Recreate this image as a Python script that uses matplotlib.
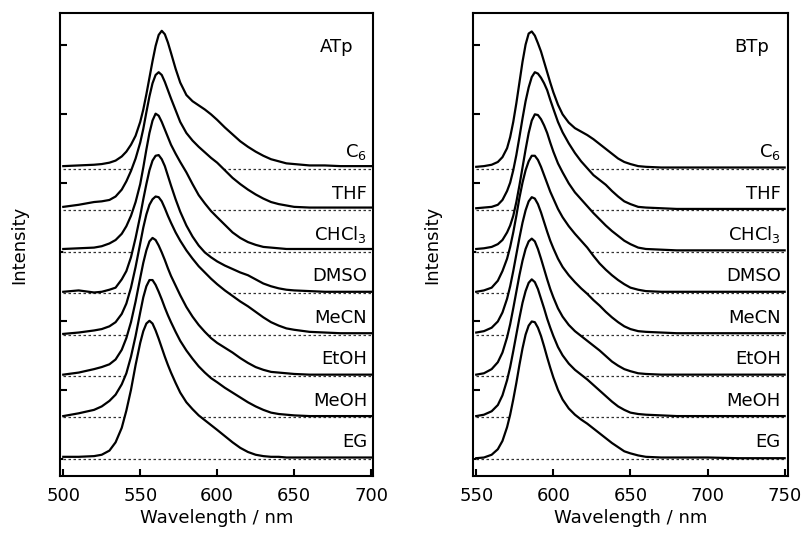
import numpy as np
import matplotlib.pyplot as plt

plt.rcParams['font.family'] = ['DejaVu Sans']
plt.rcParams['mathtext.fontset'] = 'dejavusans'

# solvent labels, top curve first
solvents = [r'C$_6$', 'THF', r'CHCl$_3$', 'DMSO', 'MeCN', 'EtOH', 'MeOH', 'EG']
offset = 0.6

# ATp emission (normalised to 2.0 at the peak)
atp_wl = [500, 510, 520, 525, 530, 534, 538, 541, 544, 547,
          550, 552, 554, 556, 558, 560, 562, 564, 566, 568,
          570, 573, 576, 580, 584, 588, 592, 596, 600, 605,
          610, 615, 620, 625, 630, 635, 640, 645, 650, 660,
          670, 680, 690, 700]
atp_c6 = [.04, .05, .06, .07, .09, .12, .18, .25, .35, .48,
          .68, .86, 1.08, 1.32, 1.56, 1.78, 1.94, 2.00, 1.95, 1.83,
          1.68, 1.45, 1.25, 1.07, .98, .92, .86, .79, .71, .60,
          .50, .40, .32, .25, .19, .14, .11, .08, .07, .05,
          .05, .04, .04, .04]
atp_thf = [.05, .08, .12, .13, .15, .20, .30, .42, .57, .75,
           .98, 1.18, 1.42, 1.65, 1.84, 1.96, 2.00, 1.96, 1.86, 1.74,
           1.62, 1.45, 1.28, 1.12, 1.01, .92, .84, .76, .69, .58,
           .47, .38, .30, .23, .17, .12, .09, .07, .05, .04,
           .04, .04, .04, .04]
atp_chcl3 = [.04, .05, .06, .08, .12, .17, .26, .37, .52, .72,
             .98, 1.22, 1.48, 1.72, 1.90, 2.00, 1.97, 1.88, 1.77, 1.66,
             1.55, 1.42, 1.30, 1.15, .98, .82, .70, .59, .50, .39,
             .28, .20, .14, .10, .07, .06, .05, .04, .04, .04,
             .04, .04, .04, .04]
atp_dmso = [.02, .04, .01, .02, .05, .08, .20, .32, .52, .80,
            1.12, 1.36, 1.58, 1.78, 1.92, 1.99, 2.00, 1.94, 1.84, 1.70,
            1.56, 1.36, 1.18, .98, .82, .69, .59, .52, .46, .40,
            .35, .30, .26, .20, .14, .10, .07, .05, .04, .03,
            .02, .02, .02, .02]
atp_mecn = [.01, .03, .06, .08, .12, .18, .30, .45, .68, .98,
            1.32, 1.55, 1.74, 1.88, 1.96, 2.00, 1.99, 1.93, 1.83, 1.72,
            1.62, 1.48, 1.36, 1.22, 1.10, .99, .90, .81, .73, .64,
            .56, .48, .41, .33, .25, .18, .13, .09, .07, .04,
            .03, .02, .02, .02]
atp_etoh = [.02, .05, .10, .13, .17, .24, .38, .55, .78, 1.08,
            1.42, 1.64, 1.82, 1.95, 2.00, 1.97, 1.89, 1.79, 1.68, 1.56,
            1.45, 1.31, 1.17, 1.00, .86, .74, .64, .55, .48, .41,
            .34, .26, .19, .13, .09, .06, .05, .04, .03, .02,
            .02, .02, .02, .02]
atp_meoh = [.02, .06, .11, .16, .24, .33, .48, .64, .88, 1.18,
            1.52, 1.74, 1.90, 1.99, 1.99, 1.92, 1.82, 1.71, 1.59, 1.48,
            1.38, 1.24, 1.11, .97, .85, .74, .65, .57, .51, .43,
            .36, .29, .22, .16, .11, .07, .05, .04, .03, .02,
            .02, .02, .02, .02]
atp_eg = [.03, .03, .04, .06, .12, .24, .45, .70, 1.00, 1.36,
          1.68, 1.85, 1.96, 2.00, 1.96, 1.86, 1.74, 1.61, 1.48, 1.36,
          1.25, 1.10, .96, .82, .72, .63, .56, .49, .42, .33,
          .24, .16, .10, .06, .04, .03, .03, .02, .02, .02,
          .02, .02, .02, .02]

# BTp emission
btp_wl = [550, 555, 560, 564, 567, 570, 572, 574, 576, 578,
          580, 582, 584, 586, 588, 590, 592, 594, 596, 598,
          600, 603, 606, 610, 614, 618, 622, 626, 630, 634,
          638, 642, 646, 650, 655, 660, 670, 680, 700, 720, 750]
btp_c6 = [.03, .04, .06, .10, .17, .30, .46, .68, .95, 1.25,
          1.55, 1.80, 1.96, 1.99, 1.93, 1.82, 1.70, 1.55, 1.40, 1.25,
          1.11, .93, .79, .67, .59, .54, .49, .43, .36, .29,
          .22, .15, .10, .07, .04, .03, .02, .02, .02, .02, .02]
btp_thf = [.03, .04, .05, .08, .15, .28, .40, .58, .80, 1.06,
           1.33, 1.58, 1.78, 1.93, 2.00, 1.98, 1.92, 1.84, 1.74, 1.60,
           1.47, 1.28, 1.13, .97, .83, .71, .61, .51, .44, .37,
           .28, .20, .13, .09, .05, .04, .03, .02, .02, .02, .02]
btp_chcl3 = [.04, .05, .07, .11, .17, .28, .38, .52, .72, .96,
             1.22, 1.48, 1.72, 1.90, 1.99, 1.98, 1.92, 1.83, 1.72, 1.58,
             1.45, 1.28, 1.15, .99, .86, .76, .66, .56, .47, .38,
             .30, .23, .16, .11, .06, .04, .03, .02, .02, .02, .02]
btp_dmso = [.02, .04, .08, .18, .32, .50, .67, .88, 1.12, 1.38,
            1.60, 1.78, 1.91, 1.99, 1.99, 1.93, 1.83, 1.71, 1.59, 1.47,
            1.37, 1.22, 1.10, .97, .86, .76, .66, .54, .43, .34,
            .26, .19, .13, .08, .05, .03, .02, .02, .02, .02, .02]
btp_mecn = [.03, .05, .10, .19, .32, .52, .70, .92, 1.16, 1.40,
            1.62, 1.80, 1.93, 1.99, 1.97, 1.89, 1.77, 1.63, 1.49, 1.36,
            1.25, 1.10, .98, .86, .76, .67, .59, .50, .42, .33,
            .25, .18, .12, .08, .05, .04, .03, .02, .02, .02, .02]
btp_etoh = [.02, .04, .10, .20, .34, .56, .75, .98, 1.22, 1.46,
            1.67, 1.84, 1.95, 1.99, 1.95, 1.84, 1.70, 1.55, 1.40, 1.26,
            1.14, .98, .86, .74, .65, .58, .51, .44, .37, .29,
            .21, .15, .10, .07, .04, .03, .02, .02, .02, .02, .02]
btp_meoh = [.02, .04, .09, .18, .32, .54, .73, .96, 1.20, 1.44,
            1.66, 1.83, 1.95, 2.00, 1.96, 1.86, 1.72, 1.58, 1.43, 1.30,
            1.18, 1.02, .90, .78, .69, .62, .55, .47, .39, .31,
            .23, .16, .11, .07, .05, .04, .03, .02, .02, .02, .02]
btp_eg = [.01, .02, .06, .14, .26, .46, .64, .86, 1.10, 1.36,
          1.60, 1.80, 1.93, 1.99, 1.98, 1.90, 1.78, 1.63, 1.47, 1.32,
          1.18, 1.00, .86, .73, .64, .57, .51, .44, .37, .30,
          .23, .17, .11, .08, .05, .03, .02, .02, .02, .01, .01]

atp_all = [atp_c6, atp_thf, atp_chcl3, atp_dmso, atp_mecn, atp_etoh, atp_meoh, atp_eg]
btp_all = [btp_c6, btp_thf, btp_chcl3, btp_dmso, btp_mecn, btp_etoh, btp_meoh, btp_eg]

fig = plt.figure(figsize=(8.08, 5.35), dpi=100)
ax1 = fig.add_axes([0.0743, 0.110, 0.3874, 0.866])
ax2 = fig.add_axes([0.5854, 0.110, 0.3899, 0.866])


def draw_panel(ax, wl, spectra, name, xlim, xticks, label_x, name_x):
    n = len(spectra)
    wl = np.array(wl)
    for i, spec in enumerate(spectra):
        base = offset * (n - 1 - i)
        y = base + np.array(spec)
        z = 3 + 3 * i
        # white fill under each curve hides the baselines of the curves above
        ax.fill_between(wl, base - 0.02, y, facecolor='white', edgecolor='none', zorder=z)
        ax.plot([wl[0], wl[-1]], [base, base], ls=(0, (2, 2)), lw=0.9, color='#333333', zorder=z + 1)
        ax.plot(wl, y, color='black', lw=1.6, solid_joinstyle='round', zorder=z + 2)
        ax.text(label_x, base + 0.17, solvents[i], ha='right', va='baseline', fontsize=13, zorder=50)
    ax.text(name_x, 5.9, name, ha='right', va='baseline', fontsize=13)
    ax.set_xlim(*xlim)
    ax.set_ylim(-0.25, 6.46)
    ax.set_xticks(xticks)
    ax.set_yticks(range(7))
    ax.set_yticklabels([])
    ax.tick_params(direction='in', length=5, width=1.5, labelsize=13, pad=8,
                   top=False, right=False)
    for s in ax.spines.values():
        s.set_linewidth(1.5)
        s.set_zorder(100)
    ax.set_xlabel('Wavelength / nm', fontsize=13, labelpad=3)
    ax.set_ylabel('Intensity', fontsize=13, labelpad=15)


draw_panel(ax1, atp_wl, atp_all, 'ATp', (497.9, 701.3), range(500, 701, 50), 697.5, 688.5)
draw_panel(ax2, btp_wl, btp_all, 'BTp', (547.9, 752.2), range(550, 751, 50), 747.5, 740)

fig.savefig('out.png', dpi=100)
